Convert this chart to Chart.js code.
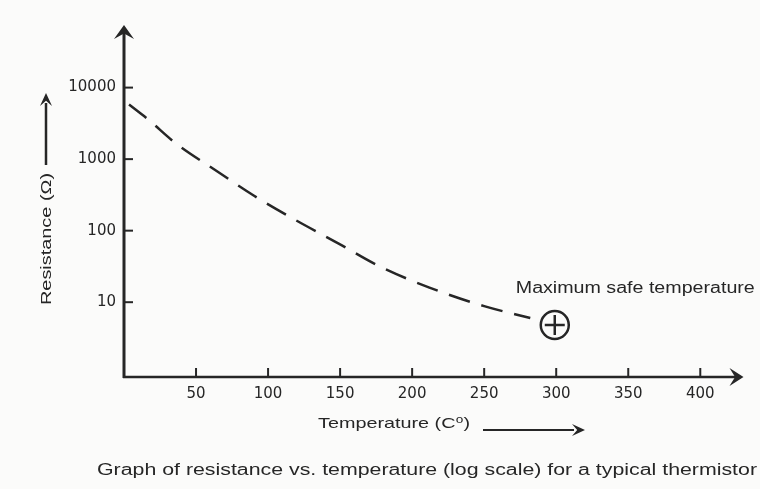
<!DOCTYPE html>
<html>
<head>
<meta charset="utf-8">
<title>Thermistor resistance vs temperature</title>
<script src="https://cdn.jsdelivr.net/npm/chart.js@4.4.1/dist/chart.umd.min.js"></script>
<style>
    html, body { margin: 0; padding: 0; background: #fbfbfa; }
    #wrap { width: 760px; height: 489px; position: relative; }
</style>
</head>
<body>
<div id="wrap"><canvas id="thermChart" width="760" height="489"></canvas></div>
<script>
// Values
const temperatures = [3.5, 17, 36, 63, 90, 119, 149, 177, 212, 250, 282];
const resistances = [5800, 3550, 1660, 710, 310, 141, 66, 32, 16, 8.8, 6.0];
const maxSafeTemp = [299];
const maxSafeRes = [4.8];
const xTicks = [50, 100, 150, 200, 250, 300, 350, 400];
const yTicks = [10, 100, 1000, 10000];

const INK = '#262626';
const TEXT = '#262626';

// draw text squeezed/stretched to a given width (the scan is stretched sideways)
function fitText(ctx, text, x, y, font, width) {
    ctx.font = font;
    const w = ctx.measureText(text).width;
    ctx.save();
    ctx.translate(x, y);
    ctx.scale(width / w, 1);
    ctx.textAlign = 'left';
    ctx.textBaseline = 'middle';
    ctx.fillText(text, 0, 0);
    ctx.restore();
}

function arrowHead(ctx, tipX, tipY, dir, len, half) {
    ctx.beginPath();
    if (dir === 'up') {
        ctx.moveTo(tipX, tipY);
        ctx.lineTo(tipX - half, tipY + len);
        ctx.lineTo(tipX, tipY + len * 0.6);
        ctx.lineTo(tipX + half, tipY + len);
    } else {
        ctx.moveTo(tipX, tipY);
        ctx.lineTo(tipX - len, tipY - half);
        ctx.lineTo(tipX - len * 0.6, tipY);
        ctx.lineTo(tipX - len, tipY + half);
    }
    ctx.closePath();
    ctx.fill();
}

const decorPlugin = {
    id: 'decor',
    afterDraw(chart) {
        const { ctx, chartArea: a, scales: { x, y } } = chart;
        ctx.save();
        ctx.strokeStyle = INK;
        ctx.fillStyle = INK;
        ctx.lineCap = 'butt';

        // axes with arrows
        ctx.lineWidth = 3;
        ctx.beginPath();
        ctx.moveTo(a.left, a.bottom + 1);
        ctx.lineTo(a.left, a.top + 8);
        ctx.stroke();
        arrowHead(ctx, a.left, a.top, 'up', 14, 10);

        ctx.lineWidth = 2.5;
        ctx.beginPath();
        ctx.moveTo(a.left - 1, a.bottom);
        ctx.lineTo(a.right - 8, a.bottom);
        ctx.stroke();
        arrowHead(ctx, a.right, a.bottom, 'right', 14, 9);

        // tick marks point into the plot
        ctx.lineWidth = 2;
        yTicks.forEach(v => {
            const py = y.getPixelForValue(v);
            ctx.beginPath();
            ctx.moveTo(a.left, py);
            ctx.lineTo(a.left + 9, py);
            ctx.stroke();
        });
        xTicks.forEach(v => {
            const px = x.getPixelForValue(v);
            ctx.beginPath();
            ctx.moveTo(px, a.bottom);
            ctx.lineTo(px, a.bottom - 9);
            ctx.stroke();
        });

        // annotation next to the marker
        const mx = x.getPixelForValue(maxSafeTemp[0]);
        const my = y.getPixelForValue(maxSafeRes[0]);
        ctx.fillStyle = TEXT;
        fitText(ctx, 'Maximum safe temperature', mx - 39, my - 36, '16px "Liberation Sans", Arial, sans-serif', 239);

        // x axis title + arrow
        fitText(ctx, 'Temperature (C\u2070)', 318, 424, '15px "Liberation Sans", "DejaVu Sans", sans-serif', 152);
        ctx.fillStyle = INK;
        ctx.lineWidth = 2;
        ctx.beginPath();
        ctx.moveTo(483, 430);
        ctx.lineTo(574, 430);
        ctx.stroke();
        arrowHead(ctx, 585, 430, 'right', 13, 6);

        // y axis title (rotated) + arrow
        ctx.fillStyle = TEXT;
        ctx.save();
        ctx.translate(47, 305);
        ctx.rotate(-Math.PI / 2);
        fitText(ctx, 'Resistance (\u03A9)', 0, 0, '15px "Liberation Sans", "DejaVu Sans", sans-serif', 132);
        ctx.restore();
        ctx.fillStyle = INK;
        ctx.lineWidth = 2.5;
        ctx.beginPath();
        ctx.moveTo(46, 165);
        ctx.lineTo(46, 103);
        ctx.stroke();
        arrowHead(ctx, 46, 93, 'up', 13, 6);

        // caption
        ctx.fillStyle = TEXT;
        fitText(ctx, 'Graph of resistance vs. temperature (log scale) for a typical thermistor', 97, 471,
            '16px "Liberation Sans", Arial, sans-serif', 660);

        ctx.restore();
    }
};

new Chart(document.getElementById('thermChart'), {
    type: 'scatter',
    data: {
        datasets: [
            {
                label: 'Resistance',
                data: temperatures.map((t, i) => ({ x: t, y: resistances[i] })),
                showLine: true,
                borderColor: INK,
                borderWidth: 2.5,
                borderDash: [22, 12],
                pointRadius: 0,
                cubicInterpolationMode: 'monotone',
                fill: false
            },
            {
                label: 'Max safe (circle)',
                data: maxSafeTemp.map((t, i) => ({ x: t, y: maxSafeRes[i] })),
                pointStyle: 'circle',
                pointRadius: 14,
                borderColor: INK,
                borderWidth: 2.5,
                backgroundColor: 'rgba(0,0,0,0)'
            },
            {
                label: 'Max safe (cross)',
                data: maxSafeTemp.map((t, i) => ({ x: t, y: maxSafeRes[i] })),
                pointStyle: 'cross',
                pointRadius: 10,
                borderColor: INK,
                borderWidth: 2.5
            }
        ]
    },
    options: {
        responsive: false,
        animation: false,
        events: [],
        layout: { padding: { top: 25, right: 13, left: 0, bottom: 0 } },
        plugins: {
            legend: { display: false },
            tooltip: { enabled: false }
        },
        scales: {
            x: {
                type: 'linear',
                min: 0,
                max: 430,
                grid: { display: false, drawTicks: false },
                border: { display: false },
                afterBuildTicks: scale => { scale.ticks = xTicks.map(v => ({ value: v })); },
                afterFit: scale => { scale.height = 112; },
                ticks: {
                    padding: 8,
                    color: TEXT,
                    font: { family: '"DejaVu Sans", sans-serif', size: 15 },
                    maxRotation: 0
                }
            },
            y: {
                type: 'logarithmic',
                min: 0.9,
                max: 75000,
                grid: { display: false, drawTicks: false },
                border: { display: false },
                afterBuildTicks: scale => { scale.ticks = yTicks.map(v => ({ value: v })); },
                afterFit: scale => { scale.width = 124; },
                ticks: {
                    padding: 8,
                    color: TEXT,
                    font: { family: '"DejaVu Sans", sans-serif', size: 15 },
                    callback: v => String(v)
                }
            }
        }
    },
    plugins: [decorPlugin]
});
</script>
</body>
</html>
